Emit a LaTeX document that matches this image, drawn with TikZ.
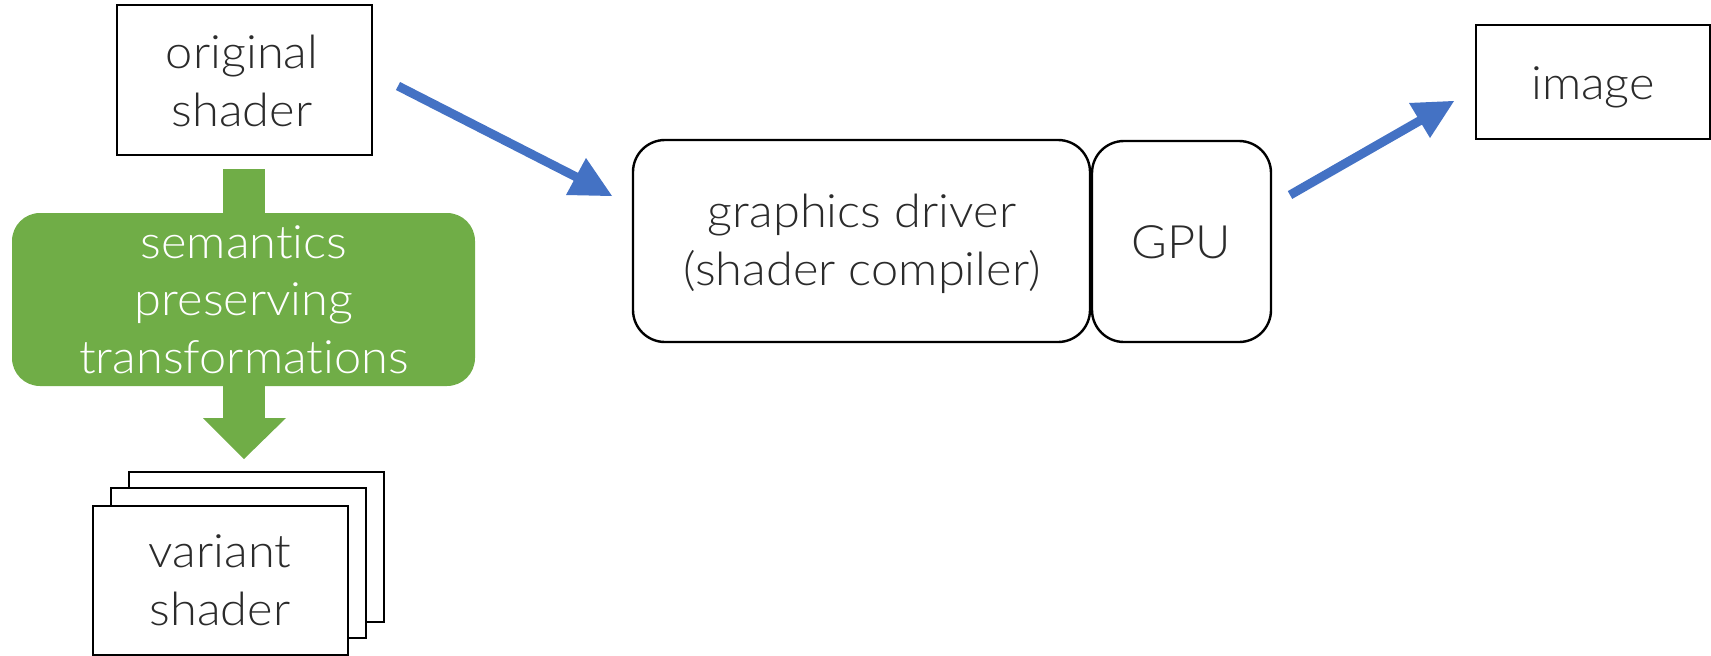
\documentclass[tikz,border=0pt]{standalone}
\usepackage{fontspec}
\setmainfont{Lato Light}[FakeStretch=1.06, Ligatures=NoCommon]
\definecolor{flowblue}{HTML}{4472C4}
\definecolor{flowgreen}{HTML}{70AD47}
\definecolor{ink}{HTML}{2B2B2B}
\tikzset{
  box/.style={draw=black, line width=2.4pt, fill=white, inner sep=0pt},
  softbox/.style={box, rounded corners=32pt},
  label/.style={anchor=base, align=center, text=ink, inner sep=0pt,
    font=\fontsize{46}{57.5}\selectfont},
  glabel/.style={label, text=white},
  flow/.style={draw=flowblue, line width=9pt},
  flowhead/.style={fill=flowblue, draw=none},
}
\begin{document}
\begin{tikzpicture}[x=1pt, y=-1pt]
\useasboundingbox (0,0) rectangle (1711,656);

% source shader (labels are anchored at the baseline of their last line)
\node[box, minimum width=255pt, minimum height=150pt] (orig) at (244.5,80) {};
\node[label] (origtext) at (242,126) {original\\shader};

% green transformation step with its vertical arrow behind it
\fill[flowgreen] (223,169) rectangle (265,418);
\fill[flowgreen] (203,418) -- (286,418) -- (244,459) -- cycle;
\node[fill=flowgreen, rounded corners=28pt, minimum width=463pt, minimum height=173pt,
      inner sep=0pt] (trans) at (243.5,299.5) {};
\node[glabel] (transtext) at (244,373) {semantics\\preserving\\transformations};

% stack of variant shaders
\node[box, minimum width=255pt, minimum height=150pt] (var3) at (256.5,547) {};
\node[box, minimum width=255pt, minimum height=150pt] (var2) at (238.5,563) {};
\node[box, minimum width=255pt, minimum height=149pt] (var1) at (220.5,580.5) {};
\node[label] (vartext) at (220,625) {variant\\shader};

% driver and GPU
\node[softbox, minimum width=457pt, minimum height=202pt] (driver) at (861.5,241) {};
\node[label] (drivertext) at (862,285) {graphics driver\\(shader compiler)};
\node[softbox, minimum width=179pt, minimum height=201pt] (gpu) at (1181.5,241.5) {};
\node[label] (gputext) at (1181,258) {GPU};

% output image
\node[box, minimum width=234pt, minimum height=114pt] (img) at (1593,82) {};
\node[label] (imgtext) at (1593,99) {image};

% blue connectors
\coordinate (in0) at (398,86);
\coordinate (in1) at (590,184);
\coordinate (inA) at (586,158);
\coordinate (inB) at (566,195);
\coordinate (inC) at (612,196);
\draw[flow] (in0) -- (in1);
\fill[flowhead] (inA) -- (inB) -- (inC) -- cycle;

\coordinate (out0) at (1290,195);
\coordinate (out1) at (1428,116);
\coordinate (outA) at (1454,101);
\coordinate (outB) at (1409,103);
\coordinate (outC) at (1430,138);
\draw[flow] (out0) -- (out1);
\fill[flowhead] (outA) -- (outB) -- (outC) -- cycle;
\end{tikzpicture}
\end{document}
